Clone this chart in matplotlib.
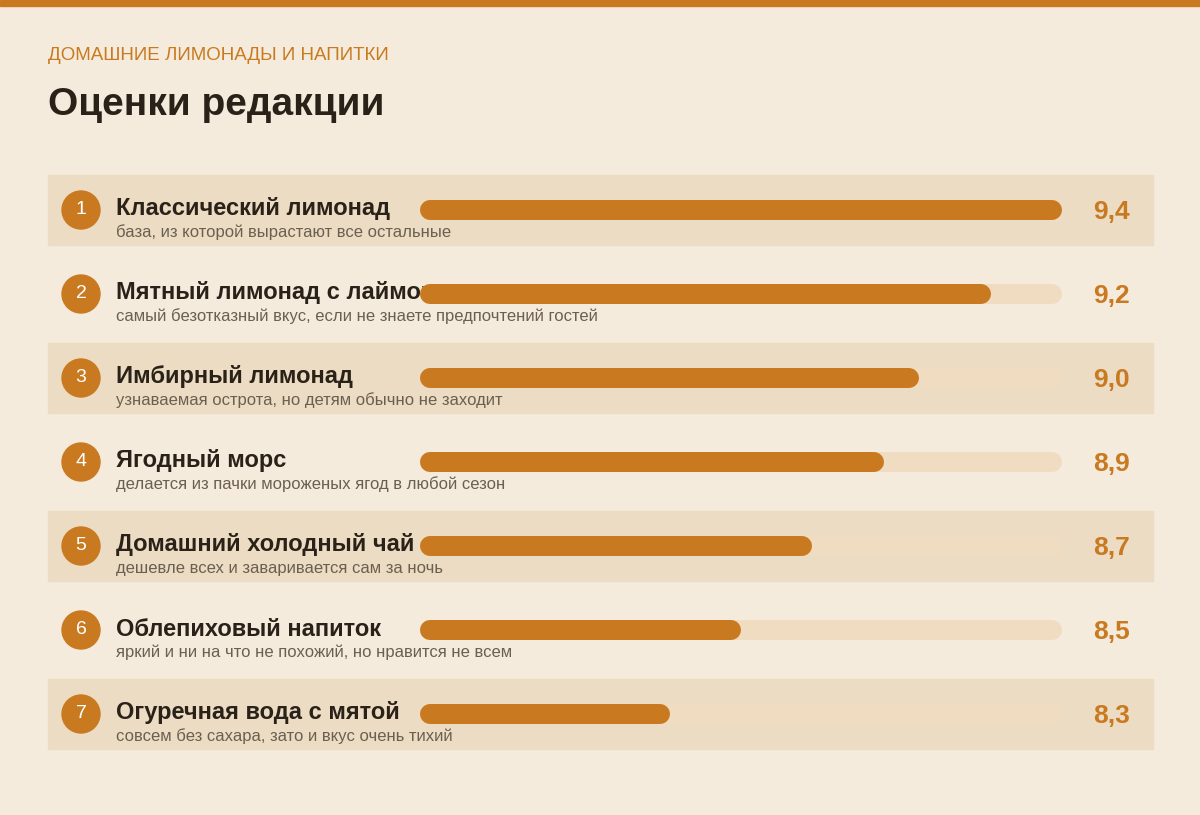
import matplotlib.pyplot as plt
from matplotlib.patches import Rectangle, Circle

plt.rcParams['font.family'] = ['Liberation Sans', 'DejaVu Sans']

names = ["Классический лимонад", "Мятный лимонад с лаймом", "Имбирный лимонад",
         "Ягодный морс", "Домашний холодный чай", "Облепиховый напиток",
         "Огуречная вода с мятой"]
notes = ["база, из которой вырастают все остальные",
         "самый безотказный вкус, если не знаете предпочтений гостей",
         "узнаваемая острота, но детям обычно не заходит",
         "делается из пачки мороженых ягод в любой сезон",
         "дешевле всех и заваривается сам за ночь",
         "яркий и ни на что не похожий, но нравится не всем",
         "совсем без сахара, зато и вкус очень тихий"]
scores = [9.4, 9.2, 9.0, 8.9, 8.7, 8.5, 8.3]
labels = ["9,4", "9,2", "9,0", "8,9", "8,7", "8,5", "8,3"]

BG = "#f5ebdc"
BAND = "#ebdcc3"
TRACK = "#f0dcc0"
ORANGE = "#c97a20"
DARK = "#2a2118"
GREY = "#6b5f50"

lo, hi = 7.6, 9.4
x0, x1 = 420, 1062
bar_h = 20


def sx(v):
    return x0 + (v - lo) / (hi - lo) * (x1 - x0)


fig = plt.figure(figsize=(12, 8.15), dpi=100, facecolor=BG)
ax = fig.add_axes([0, 0, 1, 1])
ax.set_xlim(0, 1200)
ax.set_ylim(815, 0)
ax.axis("off")

ax.add_patch(Rectangle((0, 0), 1200, 6, color=ORANGE))
ax.text(48, 55, "ДОМАШНИЕ ЛИМОНАДЫ И НАПИТКИ", color=ORANGE, fontsize=13.5,
        va="center")
ax.text(48, 105, "Оценки редакции", color=DARK, fontsize=28, fontweight="bold",
        va="center")

lw = bar_h * 72 / 100
for i, (n, d, s, lab) in enumerate(zip(names, notes, scores, labels)):
    yc = 210 + i * 84
    if i % 2 == 0:
        ax.add_patch(Rectangle((48, yc - 35), 1105, 70, color=BAND, zorder=0))
    ax.add_patch(Circle((81, yc), 19, color=ORANGE, zorder=2))
    ax.text(81, yc, str(i + 1), color="white", fontsize=14, ha="center",
            va="center", zorder=3)
    ax.text(116, yc - 1, n, color=DARK, fontsize=17, fontweight="bold",
            va="center", zorder=2)
    ax.text(116, yc + 22, d, color=GREY, fontsize=12, va="center", zorder=2)
    ax.plot([x0 + bar_h / 2, x1 - bar_h / 2], [yc, yc], color=TRACK, lw=lw,
            solid_capstyle="round", zorder=3)
    ax.plot([x0 + bar_h / 2, sx(s) - bar_h / 2], [yc, yc], color=ORANGE, lw=lw,
            solid_capstyle="round", zorder=4)
    ax.text(1130, yc + 2, lab, color=ORANGE, fontsize=19, fontweight="bold",
            ha="right", va="center", zorder=2)

fig.savefig("out.png", dpi=100, facecolor=BG)
